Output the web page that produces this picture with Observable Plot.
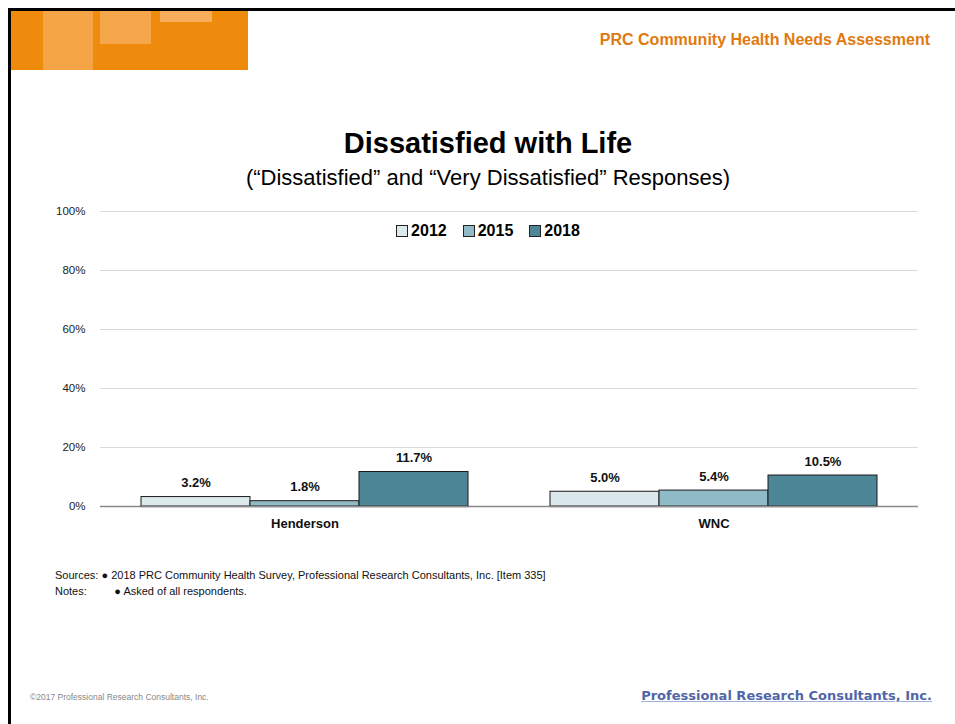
<!DOCTYPE html>
<html>
<head>
<meta charset="utf-8">
<script src="https://cdn.jsdelivr.net/npm/d3@7"></script>
<script src="https://cdn.jsdelivr.net/npm/@observablehq/plot@0.6"></script>
<style>
  html, body { margin: 0; padding: 0; background: #fff; }
  #page { position: relative; width: 955px; height: 724px; overflow: hidden; background: #fff;
          font-family: "Liberation Sans", Arial, sans-serif; color: #1a1a1a; }
  .abs { position: absolute; }
  .layer { position: absolute; left: 0; top: 200px; }
</style>
</head>
<body>
<div id="page">
  <div class="abs" style="left:8px;top:8px;width:947px;height:3px;background:#000"></div>
  <div class="abs" style="left:8px;top:8px;width:3px;height:716px;background:#000"></div>
  <div class="abs" style="left:11px;top:11px;width:237px;height:59px;background:#ee8a0c"></div>
  <div class="abs" style="left:43px;top:11px;width:50px;height:59px;background:#f5a446"></div>
  <div class="abs" style="left:100px;top:11px;width:51px;height:33px;background:#f6a74c"></div>
  <div class="abs" style="left:160px;top:11px;width:52px;height:11px;background:#f7ad5a"></div>
  <div class="abs" style="left:500px;top:31px;width:430px;text-align:right;font-weight:bold;font-size:16px;color:#e07a10;">PRC Community Health Needs Assessment</div>

  <div class="abs" style="left:0;top:127px;width:976px;text-align:center;font-weight:bold;font-size:29px;color:#000">Dissatisfied with Life</div>
  <div class="abs" style="left:0;top:165px;width:976px;text-align:center;font-size:22px;color:#000">(“Dissatisfied” and “Very Dissatisfied” Responses)</div>

  <div id="bg" class="layer"></div>
  <div id="fg" class="layer"></div>
  <div id="legend" class="abs" style="left:0;top:222px;width:976px;text-align:center;font-weight:bold;font-size:16px;color:#000;z-index:2"></div>

  <div class="abs" style="left:55px;top:567px;font-size:11px;color:#111;line-height:16px">
    <div>Sources: ● 2018 PRC Community Health Survey, Professional Research Consultants, Inc. [Item 335]</div>
    <div>Notes:&nbsp;&nbsp;&nbsp;&nbsp;&nbsp;&nbsp;&nbsp;&nbsp;&nbsp;● Asked of all respondents.</div>
  </div>

  <div class="abs" style="left:30px;top:692px;font-size:8.5px;color:#888">©2017 Professional Research Consultants, Inc.</div>
  <div class="abs" style="left:560px;top:688px;width:372px;text-align:right;font-family:'DejaVu Sans',sans-serif;font-weight:bold;font-size:13px;color:#4f66a8;text-decoration:underline;text-decoration-color:#9fb0d8">Professional Research Consultants, Inc.</div>
</div>
<script>
const categories = ["Henderson", "WNC"];
const years = ["2012", "2015", "2018"];
const hendersonValues = [3.2, 1.8, 11.7];
const wncValues = [5.0, 5.4, 10.5];
const yTicks = [0, 20, 40, 60, 80, 100];
const yearColors = ["#dbe9ed", "#8fbac6", "#4d8697"];

const seriesByCategory = { "Henderson": hendersonValues, "WNC": wncValues };
const data = categories.flatMap(c => years.map((y, i) => ({ category: c, year: y, value: seriesByCategory[c][i] })));

const font = "'Liberation Sans', Arial, sans-serif";
const common = {
  width: 955,
  height: 345,
  marginLeft: 100,
  marginRight: 37,
  marginTop: 11,
  marginBottom: 39,
  style: { fontFamily: font, fontSize: "12px", color: "#1a1a1a", background: "transparent" },
  y: { domain: [0, 100], label: null }
};

// background layer: gridlines, y axis, full-width baseline
const bg = Plot.plot({
  ...common,
  marks: [
    Plot.ruleY(yTicks.filter(d => d > 0), { stroke: "#d9d9d9", strokeWidth: 1 }),
    Plot.axisY({ ticks: yTicks, tickFormat: d => d + "%", tickSize: 0, tickPadding: 15, label: null, fontSize: 11.5, fill: "#222" }),
    Plot.ruleY([0], { stroke: "#8a8a8a", strokeWidth: 1.5 })
  ]
});
document.getElementById("bg").appendChild(bg);

// foreground layer: grouped bars, value labels, category axis
const fg = Plot.plot({
  ...common,
  fx: { domain: categories, paddingInner: 0.2, paddingOuter: 0.1, label: null },
  x: { domain: years, padding: 0, axis: null },
  color: { domain: years, range: yearColors },
  marks: [
    Plot.axisY({ ticks: [], label: null }),
    Plot.axisFx({ anchor: "bottom", tickSize: 0, tickPadding: 12, label: null, fontWeight: "bold", fontSize: 13, fill: "#111" }),
    Plot.barY(data, { fx: "category", x: "year", y: "value", fill: "year", stroke: "#1a1a1a", strokeWidth: 1 }),
    Plot.ruleY([0], { stroke: "#8a8a8a", strokeWidth: 1.5 }),
    Plot.text(data, { fx: "category", x: "year", y: "value", text: d => d.value.toFixed(1) + "%", dy: -14, fontWeight: "bold", fontSize: 13, fill: "#111" })
  ]
});
document.getElementById("fg").appendChild(fg);

const legend = document.getElementById("legend");
years.forEach((y, i) => {
  const item = document.createElement("span");
  item.style.display = "inline-block";
  item.style.margin = "0 8px";
  item.innerHTML = `<span style="display:inline-block;width:10px;height:10px;border:1px solid #222;background:${yearColors[i]};margin-right:3px;vertical-align:-1px"></span>${y}`;
  legend.appendChild(item);
});
</script>
</body>
</html>
